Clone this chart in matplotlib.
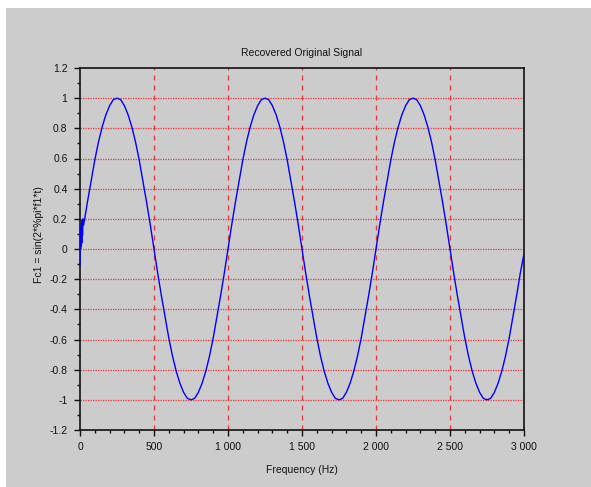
import numpy as np
import matplotlib
matplotlib.use("Agg")
import matplotlib.pyplot as plt
from matplotlib.patches import Rectangle
from matplotlib.ticker import MultipleLocator

plt.rcParams['font.family'] = ['Liberation Sans', 'DejaVu Sans']

# start-up transient (first ~20 Hz)
start_f = [0, 2, 4, 6, 8, 10, 12, 14, 17, 20]
start_v = [-0.10, 0.14, 0.00, 0.12, 0.02, 0.17, 0.04, 0.19, 0.09, 0.20]

# recovered signal sampled every 25 Hz from 25 to 3000
step_f = 25
signal_v = [
    0.16, 0.31, 0.45, 0.59, 0.71, 0.81, 0.89, 0.95, 0.99, 1.00,
    0.99, 0.95, 0.89, 0.81, 0.71, 0.59, 0.45, 0.31, 0.16, 0.00,
    -0.16, -0.31, -0.45, -0.59, -0.71, -0.81, -0.89, -0.95, -0.99, -1.00,
    -0.99, -0.95, -0.89, -0.81, -0.71, -0.59, -0.45, -0.31, -0.16, 0.00,
    0.16, 0.31, 0.45, 0.59, 0.71, 0.81, 0.89, 0.95, 0.99, 1.00,
    0.99, 0.95, 0.89, 0.81, 0.71, 0.59, 0.45, 0.31, 0.16, 0.00,
    -0.16, -0.31, -0.45, -0.59, -0.71, -0.81, -0.89, -0.95, -0.99, -1.00,
    -0.99, -0.95, -0.89, -0.81, -0.71, -0.59, -0.45, -0.31, -0.16, 0.00,
    0.16, 0.31, 0.45, 0.59, 0.71, 0.81, 0.89, 0.95, 0.99, 1.00,
    0.99, 0.95, 0.89, 0.81, 0.71, 0.59, 0.45, 0.31, 0.16, 0.00,
    -0.16, -0.31, -0.45, -0.59, -0.71, -0.81, -0.89, -0.95, -0.99, -1.00,
    -0.99, -0.95, -0.89, -0.81, -0.71, -0.59, -0.45, -0.31, -0.16, -0.03,
]

x_ticks = [0, 500, 1000, 1500, 2000, 2500, 3000]
x_labels = ["0", "500", "1 000", "1 500", "2 000", "2 500", "3 000"]
y_ticks = [-1.2, -1.0, -0.8, -0.6, -0.4, -0.2, 0.0, 0.2, 0.4, 0.6, 0.8, 1.0, 1.2]
y_labels = ["-1.2", "-1", "-0.8", "-0.6", "-0.4", "-0.2", "0",
            "0.2", "0.4", "0.6", "0.8", "1", "1.2"]

freq = np.concatenate([start_f, step_f * np.arange(1, len(signal_v) + 1)])
vals = np.concatenate([start_v, signal_v])

BG = '#cccccc'
fig = plt.figure(figsize=(5.91, 4.87), dpi=100, facecolor='white')
fig.patches.append(Rectangle((6 / 591, 0), 1, 1 - 8 / 487, transform=fig.transFigure,
                             facecolor=BG, edgecolor='none', zorder=-10))

ax = fig.add_axes([80 / 591, 1 - 430 / 487, 444 / 591, 362 / 487])
ax.set_facecolor(BG)

ax.plot(freq, vals, color='#0000ff', linewidth=1.0, zorder=3)

ax.set_xlim(0, 3000)
ax.set_ylim(-1.2, 1.2)
ax.set_xticks(x_ticks)
ax.set_xticklabels(x_labels)
ax.set_yticks(y_ticks)
ax.set_yticklabels(y_labels)
ax.xaxis.set_minor_locator(MultipleLocator(100))
ax.yaxis.set_minor_locator(MultipleLocator(0.1))

# grid: vertical dashed, horizontal dotted
for xv in x_ticks[1:-1]:
    ax.axvline(xv, color='#ee3333', linestyle=(0, (4, 4)), linewidth=0.9, zorder=1)
for yv in y_ticks[1:-1]:
    ax.axhline(yv, color='#ee3333', linestyle=(0, (1, 1)), linewidth=0.9, zorder=1)

for s in ax.spines.values():
    s.set_color('#111111')
    s.set_linewidth(1.2)

ax.tick_params(which='major', direction='out', length=4, width=1, pad=5,
               labelsize=7.5, colors='#111111')
ax.tick_params(which='minor', direction='out', length=2.5, width=1, colors='#111111')
ax.tick_params(top=False, right=False, which='both')

ax.set_title("Recovered Original Signal", fontsize=7.5, pad=9, color='#111111')
ax.set_xlabel("Frequency (Hz)", fontsize=7.5, labelpad=9, color='#111111')
ax.set_ylabel("Fc1 = sin(2*%pi*f1*t)", fontsize=7.5, color='#111111')
ax.yaxis.set_label_coords(-0.08, 0.54)

fig.savefig("out.png", dpi=100, facecolor=fig.get_facecolor())
